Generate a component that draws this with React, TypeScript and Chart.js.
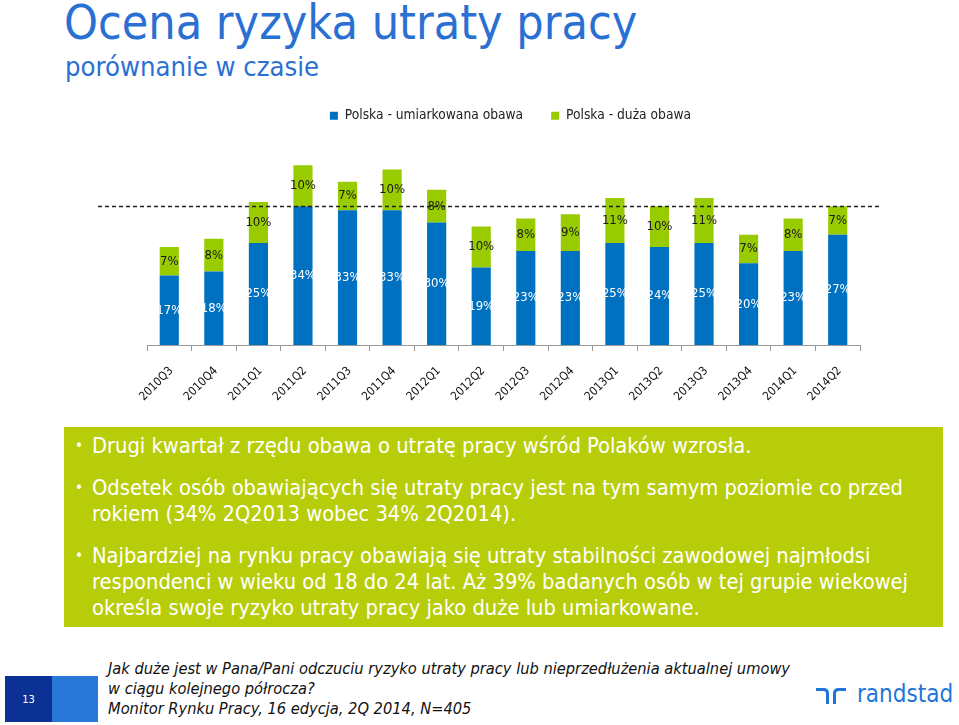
import React, { useEffect, useRef } from "react";
import { Chart, registerables } from "chart.js";

Chart.register(...registerables);

const categories = [
  "2010Q3", "2010Q4", "2011Q1", "2011Q2", "2011Q3", "2011Q4", "2012Q1", "2012Q2",
  "2012Q3", "2012Q4", "2013Q1", "2013Q2", "2013Q3", "2013Q4", "2014Q1", "2014Q2",
];
const moderateConcern = [17, 18, 25, 34, 33, 33, 30, 19, 23, 23, 25, 24, 25, 20, 23, 27];
const highConcern = [7, 8, 10, 10, 7, 10, 8, 10, 8, 9, 11, 10, 11, 7, 8, 7];
const seriesNames = ["Polska - umiarkowana obawa", "Polska - duża obawa"];
const referenceLevel = 34;

const FONT = "'DejaVu Sans Condensed', 'DejaVu Sans', sans-serif";
const BLUE = "#0070C0";
const GREEN = "#99CC00";
const TITLE_BLUE = "#2A70D2";
const BOX_GREEN = "#B8CD0A";

const labelsPlugin = {
  id: "barLabels",
  afterDatasetsDraw(chart: any) {
    const ctx = chart.ctx;
    ctx.save();
    ctx.font = `13px ${FONT}`;
    ctx.textAlign = "center";
    ctx.textBaseline = "middle";
    chart.data.datasets.forEach((ds: any, di: number) => {
      const meta = chart.getDatasetMeta(di);
      ctx.fillStyle = di === 0 ? "#ffffff" : "#1a1a1a";
      meta.data.forEach((el: any, i: number) => {
        const v = ds.data[i];
        const y = (el.y + el.base) / 2;
        ctx.fillText(`${v}%`, el.x, y);
      });
    });
    ctx.restore();
  },
};

const refLinePlugin = {
  id: "refLine",
  afterDraw(chart: any) {
    const { ctx, chartArea, scales } = chart;
    const y = Math.round(scales.y.getPixelForValue(referenceLevel)) + 0.5;
    ctx.save();
    ctx.strokeStyle = "#222";
    ctx.lineWidth = 1.4;
    ctx.setLineDash([4, 3]);
    ctx.beginPath();
    ctx.moveTo(chartArea.left - 49, y);
    ctx.lineTo(chartArea.right + 20, y);
    ctx.stroke();
    ctx.restore();
  },
};

function BarChart() {
  const ref = useRef<HTMLCanvasElement | null>(null);
  useEffect(() => {
    if (!ref.current) return;
    const chart = new Chart(ref.current, {
      type: "bar",
      data: {
        labels: categories,
        datasets: [
          { label: seriesNames[0], data: moderateConcern, backgroundColor: BLUE, borderWidth: 0 },
          { label: seriesNames[1], data: highConcern, backgroundColor: GREEN, borderWidth: 0 },
        ],
      },
      options: {
        animation: false,
        responsive: true,
        maintainAspectRatio: false,
        layout: { padding: { left: 147, right: 85, top: 0, bottom: 0 } },
        datasets: { bar: { barPercentage: 0.43, categoryPercentage: 1 } } as any,
        plugins: {
          legend: {
            position: "top",
            labels: {
              boxWidth: 8,
              boxHeight: 8,
              padding: 28,
              color: "#222",
              font: { family: FONT, size: 13.7 },
            },
          },
          tooltip: { enabled: false },
        },
        scales: {
          x: {
            stacked: true,
            grid: { drawOnChartArea: false, drawTicks: true, tickLength: 6, color: "#999", offset: true },
            border: { display: true, color: "#999" },
            ticks: {
              autoSkip: false,
              maxRotation: 45,
              minRotation: 45,
              labelOffset: 2,
              padding: 13,
              color: "#111",
              font: { family: FONT, size: 11.8 },
            },
            afterFit: (s: any) => {
              s.height = 80;
            },
          },
          y: {
            stacked: true,
            position: "right",
            min: 0,
            max: 52,
            grid: { display: false },
            border: { display: false },
            ticks: { display: false },
            afterFit: (s: any) => {
              s.width = 14;
            },
          },
        },
      },
      plugins: [labelsPlugin, refLinePlugin],
    });
    return () => chart.destroy();
  }, []);
  return <canvas ref={ref} />;
}

export default function App() {
  return (
    <div
      style={{
        position: "absolute",
        left: 0,
        top: 0,
        width: 959,
        height: 725,
        background: "#fff",
        overflow: "hidden",
        fontFamily: FONT,
      }}
    >
      <div style={{ position: "absolute", left: 64, top: -8, fontSize: 48, lineHeight: "60px", color: TITLE_BLUE, whiteSpace: "nowrap" }}>
        Ocena ryzyka utraty pracy
      </div>
      <div style={{ position: "absolute", left: 65, top: 51, fontSize: 27.2, lineHeight: "32px", color: TITLE_BLUE, whiteSpace: "nowrap" }}>
        porównanie w czasie
      </div>

      <div style={{ position: "absolute", left: 0, top: 81, width: 959, height: 344 }}>
        <BarChart />
      </div>

      <div
        style={{
          position: "absolute",
          left: 64,
          top: 427,
          width: 879,
          height: 200,
          background: BOX_GREEN,
          color: "#fff",
          fontSize: 21.7,
          lineHeight: "26px",
          boxSizing: "border-box",
          paddingTop: 6,
        }}
      >
        {[
          "Drugi kwartał z rzędu obawa o utratę pracy wśród Polaków wzrosła.",
          "Odsetek osób obawiających się utraty pracy jest na tym samym poziomie co przed rokiem (34% 2Q2013 wobec 34% 2Q2014).",
          "Najbardziej na rynku pracy obawiają się utraty stabilności zawodowej najmłodsi respondenci w wieku od 18 do 24 lat. Aż 39% badanych osób w tej grupie wiekowej określa swoje ryzyko utraty pracy jako duże lub umiarkowane.",
        ].map((t, i) => (
          <div key={i} style={{ position: "relative", paddingLeft: 28, paddingRight: 16, marginBottom: 16 }}>
            <span style={{ position: "absolute", left: 11, top: 0, fontSize: 15 }}>•</span>
            {t}
          </div>
        ))}
      </div>

      <div style={{ position: "absolute", left: 5, top: 676, width: 47, height: 46, background: "#0A3193", color: "#fff", fontSize: 11, display: "flex", alignItems: "center", justifyContent: "center" }}>
        13
      </div>
      <div style={{ position: "absolute", left: 52, top: 676, width: 46, height: 46, background: "#2878D8" }} />

      <div style={{ position: "absolute", left: 108, top: 659, fontSize: 16.3, lineHeight: "20px", fontStyle: "italic", color: "#111", whiteSpace: "nowrap" }}>
        <div>Jak duże jest w Pana/Pani odczuciu ryzyko utraty pracy lub nieprzedłużenia aktualnej umowy</div>
        <div>w ciągu kolejnego półrocza?</div>
        <div>Monitor Rynku Pracy, 16 edycja, 2Q 2014, N=405</div>
      </div>

      <svg style={{ position: "absolute", left: 815, top: 687 }} width={32} height={18} viewBox="0 0 32 18">
        <path d="M1 2.5 H8.5 Q12.5 2.5 12.5 6.5 V17" stroke="#2175D9" strokeWidth={3} fill="none" />
        <path d="M31 2.5 H23.5 Q19.5 2.5 19.5 6.5 V17" stroke="#2175D9" strokeWidth={3} fill="none" />
      </svg>
      <div style={{ position: "absolute", left: 857, top: 679, fontSize: 24, lineHeight: "30px", color: "#2175D9", whiteSpace: "nowrap" }}>
        randstad
      </div>
    </div>
  );
}
